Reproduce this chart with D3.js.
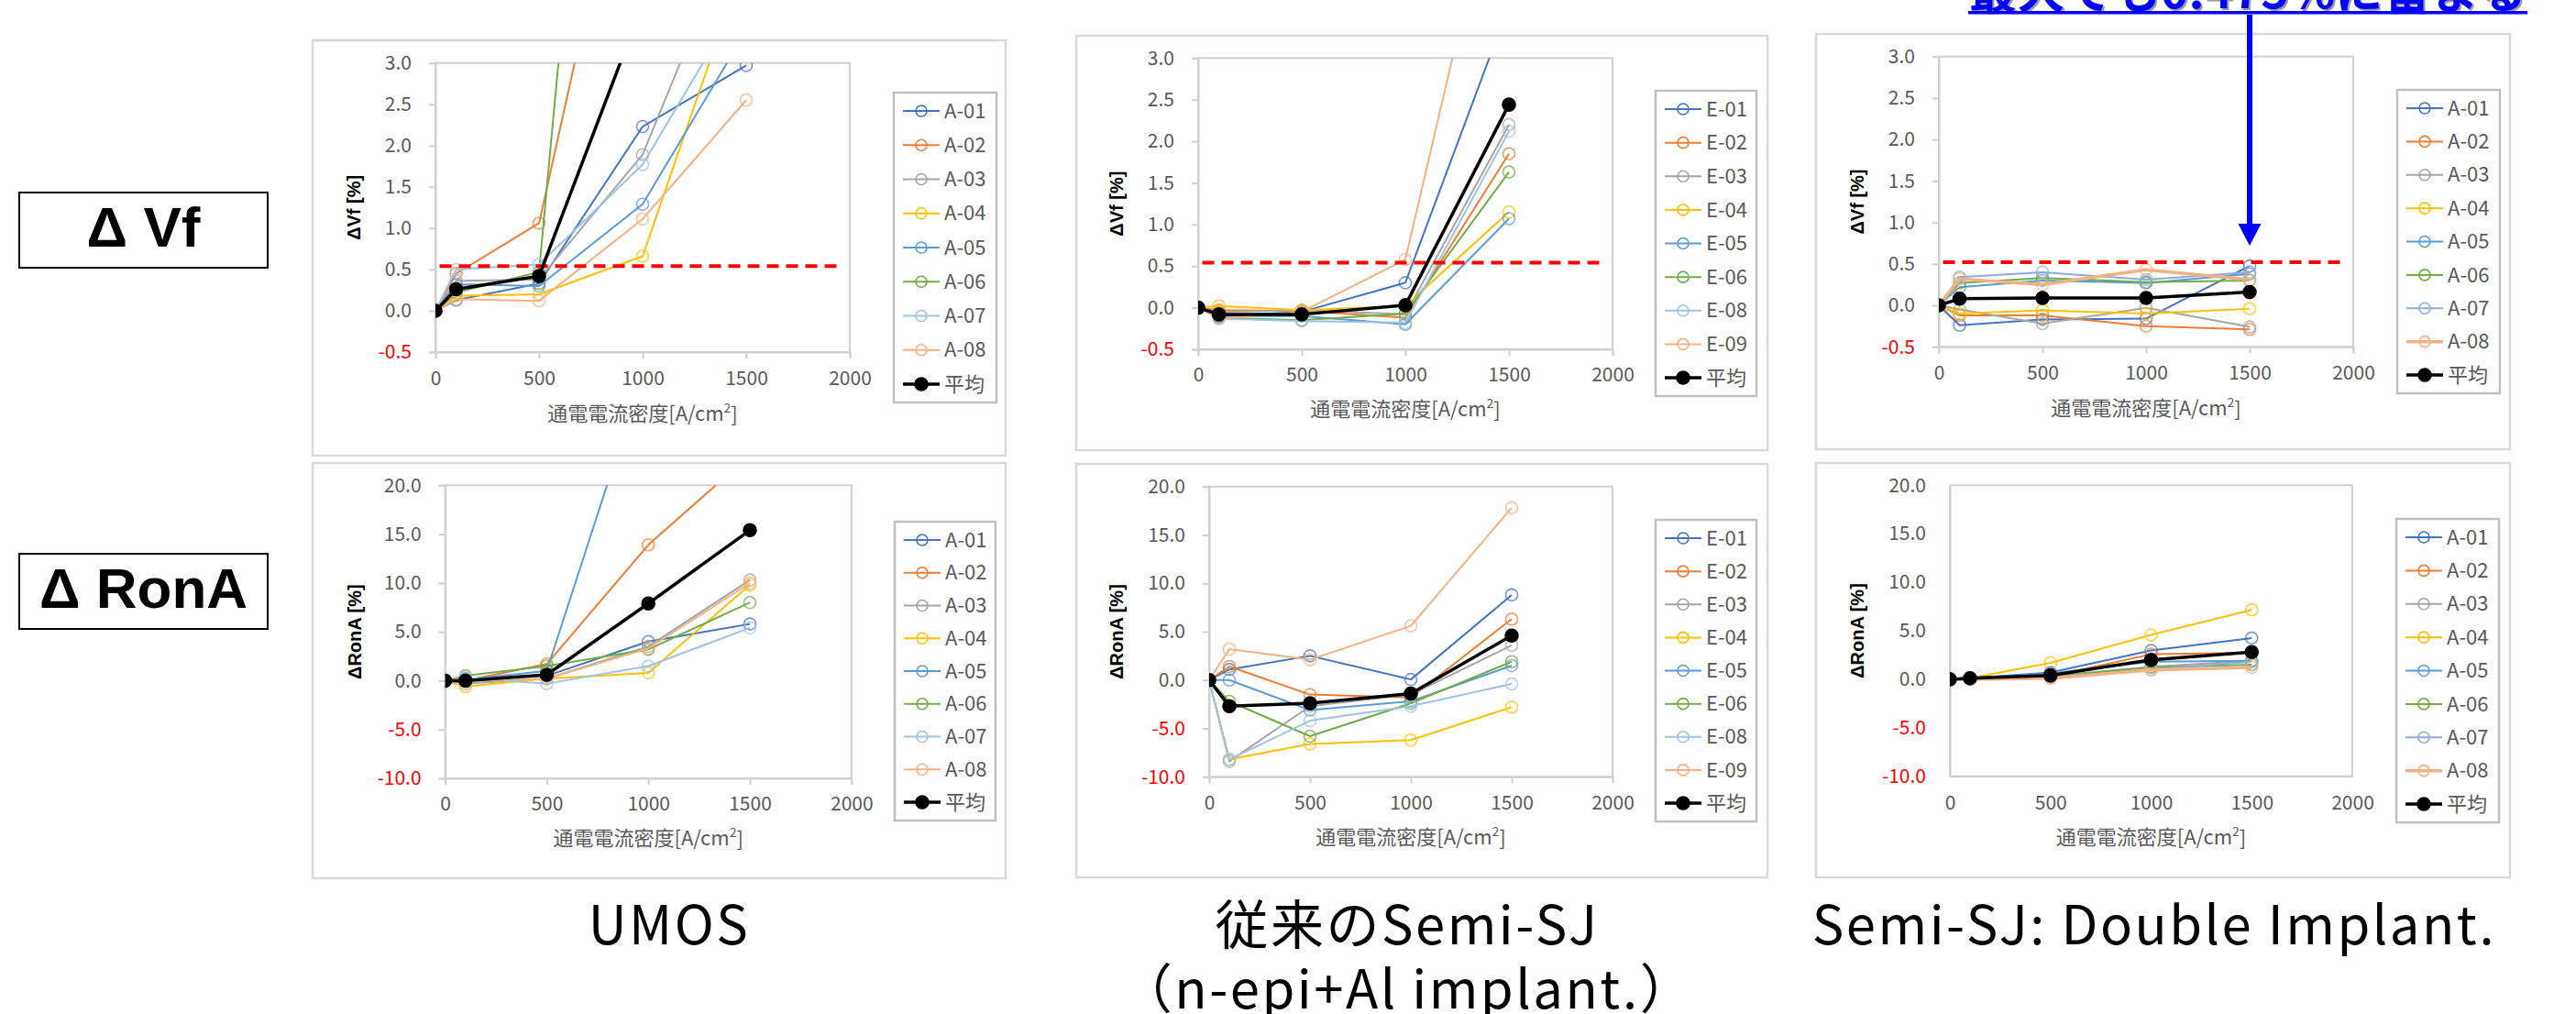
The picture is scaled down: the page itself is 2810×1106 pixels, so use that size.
<!DOCTYPE html>
<html>
<head>
<meta charset="utf-8">
<script src="https://cdn.jsdelivr.net/npm/d3@7"></script>
<style>
  body { margin: 0; background: #fff; }
  svg { display: block; }
</style>
</head>
<body>
<svg id="fig" width="2810" height="1106"></svg>
<script>
// ---- data ----------------------------------------------------------
const currentDensity = [0, 100, 500, 1000, 1500];       // A/cm2
const xTickValues = [0, 500, 1000, 1500, 2000];
const vfTickValues = [-0.5, 0, 0.5, 1.0, 1.5, 2.0, 2.5, 3.0];
const ronTickValues = [-10, -5, 0, 5, 10, 15, 20];

const namesA = ["A-01", "A-02", "A-03", "A-04", "A-05", "A-06", "A-07", "A-08", "平均"];
const namesE = ["E-01", "E-02", "E-03", "E-04", "E-05", "E-06", "E-08", "E-09", "平均"];

// ΔVf [%]
const umosVf = [
  [0, 0.13, 0.33, 2.23, 2.97],
  [0, 0.45, 1.06, 6.7, 11.5],
  [0, 0.36, 0.38, 1.89, 4.95],
  [0, 0.18, 0.20, 0.66, 4.3],
  [0, 0.32, 0.30, 1.29, 3.39],
  [0, 0.22, 0.47, 14.0, 20.0],
  [0, 0.50, 0.56, 1.77, 3.88],
  [0, 0.14, 0.12, 1.11, 2.55],
  [0, 0.26, 0.42, 3.71, 6.7]
];
const semiVf = [
  [0, -0.10, -0.05, 0.30, 3.63],
  [0, -0.03, -0.04, -0.12, 1.85],
  [0, -0.05, -0.03, -0.08, 2.20],
  [0, 0.02, -0.03, 0.02, 1.15],
  [0, -0.10, -0.10, -0.20, 1.07],
  [0, -0.12, -0.15, -0.07, 1.63],
  [0, -0.13, -0.16, -0.18, 2.12],
  [0, -0.13, -0.05, 0.58, 5.90],
  [0, -0.08, -0.08, 0.03, 2.44]
];
const doubleVf = [
  [0, -0.24, -0.17, -0.16, 0.475],
  [0, -0.12, -0.12, -0.25, -0.29],
  [0, -0.05, -0.22, -0.03, -0.26],
  [0, -0.10, -0.06, -0.10, -0.04],
  [0, 0.22, 0.30, 0.27, 0.38],
  [0, 0.27, 0.33, 0.28, 0.30],
  [0, 0.34, 0.40, 0.31, 0.40],
  [0, 0.32, 0.25, 0.43, 0.31],
  [0, 0.08, 0.09, 0.09, 0.16]
];

// ΔRonA [%]
const umosRon = [
  [0, 0.2, 0.5, 4.0, 5.8],
  [0, 0.0, 1.7, 13.9, 23.1],
  [0, -0.3, 0.2, 3.5, 10.3],
  [0, -0.6, 0.2, 0.8, 9.8],
  [0, 0.1, 1.0, 33.0, 50.9],
  [0, 0.5, 1.5, 3.2, 8.0],
  [0, 0.3, -0.3, 1.5, 5.4],
  [0, 0.0, 0.2, 3.3, 10.0],
  [0, 0.0, 0.6, 7.9, 15.4]
];
const semiRon = [
  [0, 1.1, 2.5, 0.06, 8.8],
  [0, 1.4, -1.5, -1.8, 6.3],
  [0, -8.4, -2.7, -1.5, 3.6],
  [0, -8.2, -6.6, -6.2, -2.8],
  [0, 0.0, -3.1, -2.2, 1.5],
  [0, -2.2, -5.8, -2.4, 1.9],
  [0, -8.2, -4.2, -2.7, -0.4],
  [0, 3.2, 2.1, 5.6, 17.8],
  [0, -2.7, -2.4, -1.4, 4.6]
];
const doubleRon = [
  [0, 0.1, 0.7, 2.96, 4.25],
  [0, 0.1, 0.3, 2.58, 2.74],
  [0, 0.1, 0.3, 1.3, 1.9],
  [0, 0.1, 1.7, 4.57, 7.15],
  [0, 0.1, 0.6, 1.8, 1.9],
  [0, 0.1, 0.3, 1.23, 1.5],
  [0, 0.1, 0.2, 1.0, 1.8],
  [0, 0.0, 0.1, 0.95, 1.23],
  [0, 0.1, 0.4, 2.0, 2.8]
];

// ΔVf criterion line (dashed) and its horizontal extent
const vfLimits = [0.54, 0.54, 0.52];
const limitSpan = [20, 1970];

const rowLabels = ["Δ Vf", "Δ RonA"];
const columnTitles = [["UMOS"], ["従来のSemi-SJ", "（n-epi+Al implant.）"], ["Semi-SJ: Double Implant."]];
const noteText = "最大でも0.475%に留まる";
const noteValue = 1500;   // the point the arrow marks (A-01 at 1500 A/cm2)

// ---- styles --------------------------------------------------------
const paletteA = ["#4472C4", "#ED7D31", "#A5A5A5", "#FFC000", "#5B9BD5", "#70AD47", "#9DC3E6", "#F4B183", "#000000"];
const paletteDouble = ["#4472C4", "#ED7D31", "#A5A5A5", "#FFC000", "#5B9BD5", "#70AD47", "#8FAADC", "#F4B183", "#000000"];
const widthsA = [2, 2, 2, 2, 2, 2, 2, 2, 3.5];
const widthsDouble = [2, 2, 2, 2, 2, 2, 2, 3.5, 3.5];

const FONT = "'Noto Sans CJK JP', 'Noto Sans', sans-serif";
const GRAY_TEXT = "#595959";
const svg = d3.select("#fig");

// ---- one chart panel ----------------------------------------------
function drawPanel(p, idx) {
  const g = svg.append("g");
  g.append("rect")
    .attr("x", p.box[0]).attr("y", p.box[1])
    .attr("width", p.box[2] - p.box[0]).attr("height", p.box[3] - p.box[1])
    .attr("fill", "#fff").attr("stroke", "#d9d9d9").attr("stroke-width", 2.5);

  const x = d3.scaleLinear().domain([0, 2000]).range([p.x0, p.x1]);
  const y = d3.scaleLinear().domain(p.yDomain).range([p.yBot, p.yTop]);

  // plot frame
  g.append("rect")
    .attr("x", p.x0).attr("y", p.yTop)
    .attr("width", p.x1 - p.x0).attr("height", p.yBot - p.yTop)
    .attr("fill", "none").attr("stroke", "#d0d0d0").attr("stroke-width", 2);

  const tick = p.ticks ? 7 : 0;
  const yAxis = g.append("g").attr("transform", `translate(${p.x0},0)`)
    .call(d3.axisLeft(y).tickValues(p.yTicks).tickSize(tick).tickPadding(26 - tick)
      .tickFormat(d => d.toFixed(1)));
  yAxis.select(".domain").attr("stroke", "#d0d0d0").attr("stroke-width", 2);
  yAxis.selectAll(".tick line").attr("stroke", "#d0d0d0").attr("stroke-width", 2);
  yAxis.selectAll(".tick text")
    .attr("font-family", FONT).attr("font-size", 21)
    .attr("fill", d => d < 0 ? "#FF0000" : GRAY_TEXT);

  const xAxis = g.append("g").attr("transform", `translate(0,${p.yBot})`)
    .call(d3.axisBottom(x).tickValues(xTickValues).tickSize(tick).tickFormat(d3.format("d")));
  xAxis.select(".domain").attr("stroke", "#d0d0d0").attr("stroke-width", 2);
  xAxis.selectAll(".tick line").attr("stroke", "#d0d0d0").attr("stroke-width", 2);
  xAxis.selectAll(".tick text")
    .attr("font-family", FONT).attr("font-size", 21).attr("fill", GRAY_TEXT)
    .attr("y", p.xTickY - p.yBot).attr("dy", "0.35em");

  // axis titles
  g.append("text")
    .attr("transform", `translate(${p.yTitleX},${(p.yTop + p.yBot) / 2}) rotate(-90)`)
    .attr("text-anchor", "middle").attr("dy", "0.35em")
    .attr("font-family", "'Liberation Sans', Arial, sans-serif").attr("font-weight", "bold")
    .attr("font-size", 20).attr("fill", "#000")
    .text(p.yTitle);
  const xt = g.append("text")
    .attr("x", (p.x0 + p.x1) / 2).attr("y", p.xTitleY).attr("dy", "0.35em")
    .attr("text-anchor", "middle")
    .attr("font-family", FONT).attr("font-size", 22).attr("fill", GRAY_TEXT);
  xt.append("tspan").text("通電電流密度[A/cm");
  xt.append("tspan").attr("font-size", 14).attr("dy", "-0.6em").text("2");
  xt.append("tspan").attr("dy", "0.42em").text("]");

  // clipped data area
  const clipId = "clip" + idx;
  g.append("clipPath").attr("id", clipId).append("rect")
    .attr("x", p.x0).attr("y", p.yTop).attr("width", p.x1 - p.x0).attr("height", p.yBot - p.yTop);
  const area = g.append("g").attr("clip-path", `url(#${clipId})`);

  const line = d3.line().x((d, i) => x(currentDensity[i])).y(d => y(d));
  const last = p.values.length - 1;

  const drawSeries = (vals, k) => {
    const sg = area.append("g");
    sg.append("path").datum(vals)
      .attr("d", line).attr("fill", "none")
      .attr("stroke", p.colors[k]).attr("stroke-width", p.widths[k])
      .attr("stroke-linejoin", "round");
    sg.selectAll("circle").data(vals).join("circle")
      .attr("cx", (d, i) => x(currentDensity[i])).attr("cy", d => y(d))
      .attr("r", k === last ? 7 : 6.5)
      .attr("fill", k === last ? "#000" : "none")
      .attr("stroke", p.colors[k]).attr("stroke-opacity", k === last ? 1 : 0.75)
      .attr("stroke-width", 1.6);
  };

  p.values.slice(0, last).forEach(drawSeries);

  if (p.limit !== undefined) {
    area.append("line")
      .attr("x1", x(limitSpan[0])).attr("x2", x(limitSpan[1]))
      .attr("y1", y(p.limit)).attr("y2", y(p.limit))
      .attr("stroke", "#FF0000").attr("stroke-width", 4).attr("stroke-dasharray", "13,8");
  }
  drawSeries(p.values[last], last);

  // legend
  const L = p.legend;
  g.append("rect")
    .attr("x", L[0]).attr("y", L[1]).attr("width", L[2] - L[0]).attr("height", L[3] - L[1])
    .attr("fill", "#fff").attr("stroke", "#bfbfbf").attr("stroke-width", 2.5);
  const pad = 20;
  const step = (L[3] - L[1] - 2 * pad) / (p.names.length - 1);
  p.names.forEach((name, k) => {
    const cy = L[1] + pad + k * step;
    g.append("line").attr("x1", L[0] + 10).attr("x2", L[0] + 50).attr("y1", cy).attr("y2", cy)
      .attr("stroke", p.colors[k]).attr("stroke-width", p.widths[k]);
    g.append("circle").attr("cx", L[0] + 30).attr("cy", cy).attr("r", k === last ? 7 : 6)
      .attr("fill", k === last ? "#000" : "none")
      .attr("stroke", p.colors[k]).attr("stroke-width", 1.6);
    g.append("text").attr("x", L[0] + 55).attr("y", cy).attr("dy", "0.35em")
      .attr("font-family", FONT).attr("font-size", 22).attr("fill", GRAY_TEXT)
      .text(name);
  });

  return { x, y };
}

// ---- layout of the six panels --------------------------------------
const vfRow = { yDomain: [-0.5, 3.0], yTicks: vfTickValues, yTitle: "ΔVf [%]" };
const ronRow = { yDomain: [-10, 20], yTicks: ronTickValues, yTitle: "ΔRonA [%]" };

const panels = [
  Object.assign({}, vfRow, { box: [341, 44, 1097, 497], x0: 475, x1: 927, yTop: 68.7, yBot: 384,
    legend: [975, 101, 1087, 439], yTitleX: 386, xTickY: 413, xTitleY: 451, ticks: true,
    values: umosVf, names: namesA, colors: paletteA, widths: widthsA, limit: vfLimits[0] }),
  Object.assign({}, vfRow, { box: [1174, 39, 1928, 491], x0: 1307, x1: 1759, yTop: 63.3, yBot: 381,
    legend: [1806, 99, 1916, 432], yTitleX: 1218, xTickY: 409, xTitleY: 446, ticks: true,
    values: semiVf, names: namesE, colors: paletteA, widths: widthsA, limit: vfLimits[1] }),
  Object.assign({}, vfRow, { box: [1981, 37, 2738, 490], x0: 2115, x1: 2567, yTop: 61.7, yBot: 378.3,
    legend: [2615, 98, 2727, 429], yTitleX: 2026, xTickY: 407, xTitleY: 445, ticks: true,
    values: doubleVf, names: namesA, colors: paletteDouble, widths: widthsDouble, limit: vfLimits[2] }),
  Object.assign({}, ronRow, { box: [341, 505, 1097, 958], x0: 485.6, x1: 928.8, yTop: 529.3, yBot: 849,
    legend: [976, 569, 1086, 895], yTitleX: 387, xTickY: 877, xTitleY: 914, ticks: true,
    values: umosRon, names: namesA, colors: paletteA, widths: widthsA }),
  Object.assign({}, ronRow, { box: [1174, 506, 1928, 957], x0: 1319, x1: 1759, yTop: 530.7, yBot: 847.3,
    legend: [1806, 567, 1916, 896], yTitleX: 1218, xTickY: 876, xTitleY: 913, ticks: true,
    values: semiRon, names: namesE, colors: paletteA, widths: widthsA }),
  Object.assign({}, ronRow, { box: [1981, 505, 2738, 957], x0: 2127, x1: 2566, yTop: 529.3, yBot: 846.7,
    legend: [2614, 566, 2726, 897], yTitleX: 2026, xTickY: 876, xTitleY: 913, ticks: false,
    values: doubleRon, names: namesA, colors: paletteDouble, widths: widthsDouble })
];

const scales = panels.map((p, i) => drawPanel(p, i));

// ---- row labels on the left ----------------------------------------
const rowBoxes = [[21, 210, 292, 292], [21, 604, 292, 686]];
rowLabels.forEach((t, i) => {
  const b = rowBoxes[i];
  svg.append("rect").attr("x", b[0]).attr("y", b[1]).attr("width", b[2] - b[0]).attr("height", b[3] - b[1])
    .attr("fill", "#fff").attr("stroke", "#000").attr("stroke-width", 2);
  svg.append("text").attr("x", (b[0] + b[2]) / 2).attr("y", b[3] - 23)
    .attr("text-anchor", "middle")
    .attr("font-family", "'Liberation Sans', Arial, sans-serif").attr("font-weight", "bold")
    .attr("font-size", 62).attr("fill", "#000")
    .text(t);
});

// ---- column titles under the charts --------------------------------
const titleCenters = [730, 1535, 2350];
columnTitles.forEach((lines, i) => {
  lines.forEach((t, j) => {
    svg.append("text").attr("x", titleCenters[i]).attr("y", 1030 + j * 70)
      .attr("text-anchor", "middle")
      .attr("font-family", FONT).attr("font-size", 58).attr("letter-spacing", 2.5)
      .attr("fill", "#000")
      .text(t);
  });
});

// ---- note and arrow pointing at the maximum ΔVf ---------------------
const sVf = scales[2];
const arrowX = sVf.x(noteValue);
const tipY = sVf.y(doubleVf[0][4]) - 22;
svg.append("line").attr("x1", arrowX).attr("x2", arrowX).attr("y1", 16).attr("y2", tipY - 20)
  .attr("stroke", "#0000FF").attr("stroke-width", 6);
svg.append("path")
  .attr("d", `M${arrowX - 12.5},${tipY - 24} L${arrowX + 12.5},${tipY - 24} L${arrowX},${tipY} Z`)
  .attr("fill", "#0000FF");

const note = svg.append("g");
note.append("text").attr("x", 2150).attr("y", 11)
  .attr("font-family", FONT).attr("font-weight", "bold").attr("font-size", 50)
  .attr("fill", "#9a9a9a").attr("textLength", 608).attr("lengthAdjust", "spacingAndGlyphs")
  .text(noteText);
note.append("text").attr("x", 2148).attr("y", 9)
  .attr("font-family", FONT).attr("font-weight", "bold").attr("font-size", 50)
  .attr("fill", "#0000FF").attr("textLength", 608).attr("lengthAdjust", "spacingAndGlyphs")
  .text(noteText);
note.append("rect").attr("x", 2147).attr("y", 12).attr("width", 610).attr("height", 3.5)
  .attr("fill", "#0000FF");
</script>
</body>
</html>
